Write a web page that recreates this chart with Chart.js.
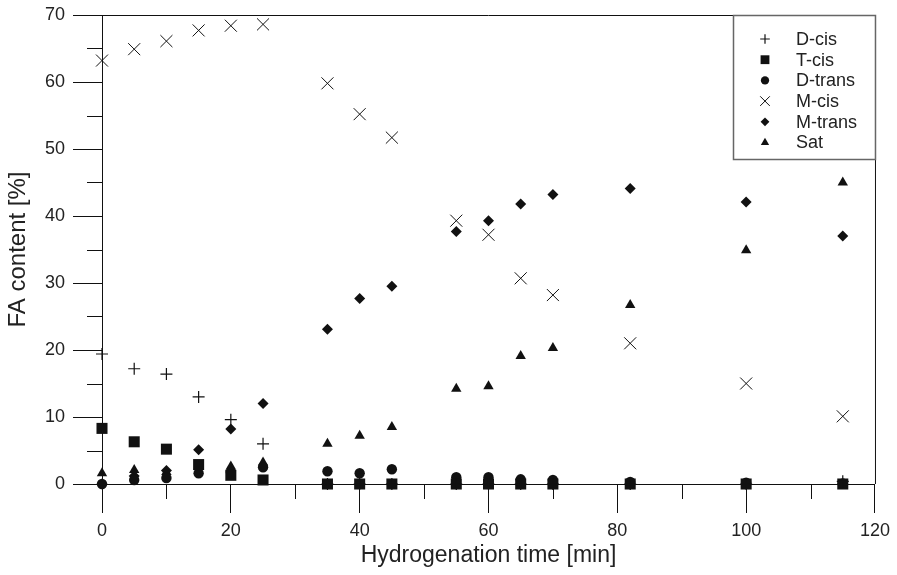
<!DOCTYPE html>
<html>
<head>
<meta charset="utf-8">
<script src="https://cdn.jsdelivr.net/npm/chart.js@4.4.1/dist/chart.umd.min.js"></script>
<style>
  html, body { margin: 0; padding: 0; background: #fff; }
</style>
</head>
<body>
<canvas id="faChart" width="897" height="575"></canvas>
<script>
// hydrogenation time [min]
const times = [0, 5, 10, 15, 20, 25, 35, 40, 45, 55, 60, 65, 70, 82, 100, 115];

// FA content [%] per fatty acid group
const dCis = [19.4, 17.2, 16.4, 13.0, 9.6, 6.0, 0, 0, 0, 0, 0, 0, 0, 0, 0, 0.4];
const tCis = [8.3, 6.3, 5.2, 2.9, 1.3, 0.6, 0, 0, 0, 0, 0, 0, 0, 0, 0, 0];
const dTrans = [0, 0.6, 0.9, 1.6, 1.8, 2.5, 1.9, 1.6, 2.2, 1.0, 1.0, 0.7, 0.6, 0.3, 0.2, 0.1];
const mCis = [63.2, 64.9, 66.1, 67.7, 68.4, 68.6, 59.8, 55.2, 51.7, 39.3, 37.2, 30.7, 28.2, 21.0, 15.0, 10.1];
const mTrans = [0, 1.2, 2.0, 5.1, 8.2, 12.0, 23.1, 27.7, 29.5, 37.7, 39.3, 41.8, 43.2, 44.1, 42.1, 37.0];
const sat = [1.6, 2.1, 1.8, 2.6, 2.6, 3.2, 6.0, 7.2, 8.5, 14.2, 14.6, 19.1, 20.3, 26.7, 34.9, 45.0];

const seriesNames = ["D-cis", "T-cis", "D-trans", "M-cis", "M-trans", "Sat"];
const seriesValues = [dCis, tCis, dTrans, mCis, mTrans, sat];

const xTicks = [0, 20, 40, 60, 80, 100, 120];
const yTicks = [0, 10, 20, 30, 40, 50, 60, 70];

const FONT = "'Liberation Sans', Arial, sans-serif";
const INK = "#111";

const markerStyles = [
  { pointStyle: "cross", radius: 6, borderWidth: 1.2 },
  { pointStyle: "rect", radius: 7.8, borderWidth: 0 },
  { pointStyle: "circle", radius: 5.2, borderWidth: 0 },
  { pointStyle: "crossRot", radius: 8.5, borderWidth: 1 },
  { pointStyle: "rectRot", radius: 5.5, borderWidth: 0 },
  { pointStyle: "triangle", radius: 6, borderWidth: 0 },
];

const datasets = seriesNames.map((name, i) => ({
  label: name,
  data: times.map((t, j) => ({ x: t, y: seriesValues[i][j] })),
  pointStyle: markerStyles[i].pointStyle,
  pointRadius: markerStyles[i].radius,
  pointBorderWidth: markerStyles[i].borderWidth,
  pointBackgroundColor: INK,
  pointBorderColor: INK,
  showLine: false,
  clip: false,
}));

// short ticks between the labelled ones, plus the top/right frame and legend box
const framePlugin = {
  id: "frame",
  beforeDatasetsDraw(chart) {
    const { ctx, chartArea, scales } = chart;
    ctx.save();
    ctx.strokeStyle = INK;
    ctx.lineWidth = 1;
    ctx.beginPath();
    for (let v = 10; v < 120; v += 20) {
      const px = Math.round(scales.x.getPixelForValue(v)) + 0.5;
      ctx.moveTo(px, chartArea.bottom);
      ctx.lineTo(px, chartArea.bottom + 15);
    }
    for (let v = 5; v < 70; v += 10) {
      const py = Math.round(scales.y.getPixelForValue(v)) + 0.5;
      ctx.moveTo(chartArea.left, py);
      ctx.lineTo(chartArea.left - 15, py);
    }
    ctx.moveTo(chartArea.left, chartArea.top + 0.5);
    ctx.lineTo(chartArea.right, chartArea.top + 0.5);
    ctx.moveTo(chartArea.right + 0.5, chartArea.top);
    ctx.lineTo(chartArea.right + 0.5, chartArea.bottom);
    ctx.stroke();
    ctx.restore();
  },
  afterDatasetsDraw(chart) {
    const { ctx, chartArea } = chart;
    const boxLeft = 733;
    const boxBottom = 159;
    ctx.save();
    ctx.fillStyle = "#fff";
    ctx.fillRect(boxLeft, chartArea.top + 1, chartArea.right - boxLeft, boxBottom - chartArea.top);
    ctx.strokeStyle = "#666";
    ctx.lineWidth = 1.5;
    ctx.strokeRect(boxLeft + 0.5, chartArea.top + 0.5, chartArea.right - boxLeft, boxBottom - chartArea.top);
    ctx.font = "18px " + FONT;
    ctx.textBaseline = "middle";
    seriesNames.forEach((name, i) => {
      const y = 39 + i * 20.7;
      ctx.fillStyle = INK;
      ctx.strokeStyle = INK;
      ctx.lineWidth = markerStyles[i].borderWidth || 1;
      Chart.helpers.drawPoint(ctx, {
        pointStyle: markerStyles[i].pointStyle,
        radius: markerStyles[i].radius * 0.8,
        borderWidth: markerStyles[i].borderWidth,
        rotation: 0,
      }, 765, y);
      ctx.fillStyle = "#222";
      ctx.fillText(name, 796, y + 1);
    });
    ctx.restore();
  },
};

new Chart(document.getElementById("faChart"), {
  type: "scatter",
  data: { datasets: datasets },
  options: {
    responsive: false,
    animation: false,
    devicePixelRatio: 1,
    layout: { padding: { top: 15, right: 21, left: 0, bottom: 0 } },
    plugins: {
      legend: { display: false },
      tooltip: { enabled: false },
    },
    scales: {
      x: {
        type: "linear",
        min: 0,
        max: 120,
        afterBuildTicks: (scale) => {
          scale.ticks = xTicks.map((v) => ({ value: v }));
        },
        afterFit: (scale) => {
          scale.height = 91;
        },
        grid: { drawOnChartArea: false, tickLength: 29, color: INK, lineWidth: 1 },
        border: { color: INK, width: 1 },
        ticks: {
          color: "#222",
          padding: 7,
          maxRotation: 0,
          font: { family: FONT, size: 18 },
        },
        title: {
          display: true,
          text: "Hydrogenation time [min]",
          color: "#222",
          font: { family: FONT, size: 23 },
          padding: { top: 0, bottom: 6 },
        },
      },
      y: {
        type: "linear",
        min: 0,
        max: 70,
        afterBuildTicks: (scale) => {
          scale.ticks = yTicks.map((v) => ({ value: v }));
        },
        afterFit: (scale) => {
          scale.width = 102;
          scale.paddingTop = 0;
          scale.paddingBottom = 0;
        },
        grid: { drawOnChartArea: false, tickLength: 29, color: INK, lineWidth: 1 },
        border: { color: INK, width: 1 },
        ticks: {
          color: "#222",
          padding: 8,
          font: { family: FONT, size: 18 },
        },
        title: {
          display: true,
          text: "FA content [%]",
          color: "#222",
          font: { family: FONT, size: 24 },
          padding: { top: 4, bottom: 0 },
        },
      },
    },
  },
  plugins: [framePlugin],
});
</script>
</body>
</html>
